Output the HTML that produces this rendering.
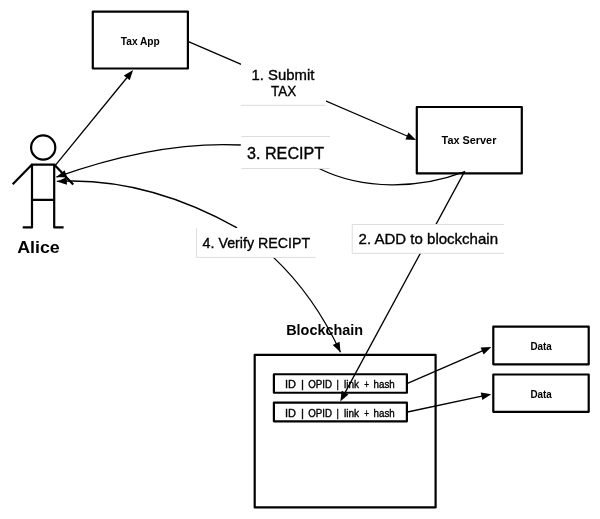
<!DOCTYPE html>
<html><head><meta charset="utf-8">
<style>
html,body{margin:0;padding:0;background:#fff;}
body{width:600px;height:519px;overflow:hidden;position:relative;}
svg{position:absolute;left:0;top:0;will-change:transform;}
text{font-family:"Liberation Sans",sans-serif;fill:#000;}
</style></head><body>
<svg width="600" height="519" viewBox="0 0 600 519">
<rect x="0" y="0" width="600" height="519" fill="#fff"/>
<g>
<g fill="none" stroke="#000" stroke-width="1.3">
<path d="M 188.50 41.70 L 410.59 137.52"/>
<path d="M 55.50 165.20 L 129.31 74.75"/>
<path d="M 464.80 171.10 L 343.15 396.12"/>
<path d="M 407.50 383.30 L 485.79 349.38"/>
<path d="M 407.50 412.00 L 485.43 395.45"/>
<path d="M 464.00 171.90 C 419.62 189.06 362.81 190.16 319.60 168.75"/>
<path d="M 240.80 145.00 C 178.01 141.87 115.48 156.00 56.40 177.10"/>
<path d="M 237.10 227.85 C 181.72 196.89 120.49 177.95 56.80 181.40"/>
<path d="M 273.20 257.10 C 301.60 283.81 324.13 316.98 340.50 352.30"/>
</g>
<g fill="#000" stroke="none">
<polygon points="416.10,139.90 405.41,139.43 408.42,132.45"/>
<polygon points="133.10,70.10 129.72,80.25 123.83,75.45"/>
<polygon points="340.30,401.40 341.71,390.80 348.40,394.41"/>
<polygon points="491.30,347.00 483.63,354.46 480.61,347.49"/>
<polygon points="491.30,394.20 482.31,399.99 480.73,392.56"/>
<polygon points="56.40,177.10 64.59,170.21 67.09,177.39"/>
<polygon points="56.80,181.40 66.66,177.24 66.93,184.84"/>
<polygon points="340.50,352.30 332.74,344.94 339.59,341.64"/>
</g>
<rect x="241" y="60" width="85" height="45" fill="#fff"/>
<line x1="240.8" y1="105.3" x2="325.8" y2="105.3" stroke="#ddd" stroke-width="1"/>
<rect x="241.5" y="136.5" width="88.5" height="32" fill="#fff"/>
<line x1="241.5" y1="136.5" x2="330" y2="136.5" stroke="#ddd" stroke-width="1"/>
<line x1="241.5" y1="168.5" x2="330" y2="168.5" stroke="#ddd" stroke-width="1"/>
<rect x="196.5" y="228" width="119.5" height="29.4" fill="#fff"/>
<line x1="196.5" y1="228.3" x2="196.5" y2="257.4" stroke="#ddd" stroke-width="1"/>
<line x1="196.5" y1="257.4" x2="316" y2="257.4" stroke="#ddd" stroke-width="1"/>
<rect x="352.2" y="224.5" width="151.6" height="28.8" fill="#fff"/>
<line x1="352.2" y1="224.5" x2="352.2" y2="253.3" stroke="#ddd" stroke-width="1"/>
<line x1="352.2" y1="224.5" x2="503.8" y2="224.5" stroke="#ddd" stroke-width="1"/>
<line x1="352.2" y1="253.3" x2="503.8" y2="253.3" stroke="#ddd" stroke-width="1"/>
<g fill="none" stroke="#000" stroke-width="2.2" stroke-linejoin="round">
<rect x="92.8" y="11.6" width="95.1" height="56.9"/>
<rect x="416.8" y="107" width="105" height="66.4"/>
<rect x="254.7" y="354.8" width="180.9" height="152.6"/>
<rect x="273.9" y="374.25" width="133" height="18.5"/>
<rect x="273.9" y="402.7" width="133" height="18.6"/>
<rect x="493.3" y="326.6" width="95.4" height="37.7"/>
<rect x="493.3" y="374.5" width="95.4" height="37.3"/>
<circle cx="43.2" cy="147.5" r="12.1"/>
<path d="M 32 164.6 L 54.2 164.6 M 32 199.8 L 54.2 199.8 M 32 163.5 L 32 227.4 L 22.7 227.4 M 54.2 163.5 L 54.2 227.4 L 63.6 227.4 M 32 164.6 L 12.7 184.3 M 54.2 164.6 L 73.2 184.5"/>
</g>
</g>
<text id="sub" x="251.60" y="79.70" font-size="14.5" font-weight="normal" textLength="62.80" lengthAdjust="spacingAndGlyphs" stroke="#000" stroke-width="0.35">1. Submit</text>
<text id="tax" x="271.00" y="96.30" font-size="15" font-weight="normal" textLength="25.20" lengthAdjust="spacingAndGlyphs" stroke="#000" stroke-width="0.35">TAX</text>
<text id="rec" x="247.00" y="158.80" font-size="16.5" font-weight="normal" textLength="77.20" lengthAdjust="spacingAndGlyphs" stroke="#000" stroke-width="0.35">3. RECIPT</text>
<text id="ver" x="202.60" y="248.00" font-size="15" font-weight="normal" textLength="107.60" lengthAdjust="spacingAndGlyphs" stroke="#000" stroke-width="0.35">4. Verify RECIPT</text>
<text id="add" x="358.60" y="243.80" font-size="15" font-weight="normal" textLength="139.40" lengthAdjust="spacingAndGlyphs" stroke="#000" stroke-width="0.35">2. ADD to blockchain</text>
<text id="app" x="120.80" y="44.60" font-size="10.5" font-weight="bold" textLength="39.00" lengthAdjust="spacingAndGlyphs">Tax App</text>
<text id="srv" x="441.60" y="144.00" font-size="10.7" font-weight="bold" textLength="54.80" lengthAdjust="spacingAndGlyphs">Tax Server</text>
<text id="id1_0" x="285.00" y="388.20" font-size="10" font-weight="normal" textLength="11.00" lengthAdjust="spacingAndGlyphs" stroke="#000" stroke-width="0.35">ID</text>
<text id="id1_1" x="301.00" y="388.20" font-size="10" font-weight="normal" textLength="3.00" lengthAdjust="spacingAndGlyphs" stroke="#000" stroke-width="0.35">|</text>
<text id="id1_2" x="308.20" y="388.20" font-size="10" font-weight="normal" textLength="23.80" lengthAdjust="spacingAndGlyphs" stroke="#000" stroke-width="0.35">OPID</text>
<text id="id1_3" x="336.60" y="388.20" font-size="10" font-weight="normal" textLength="2.40" lengthAdjust="spacingAndGlyphs" stroke="#000" stroke-width="0.35">|</text>
<text id="id1_4" x="344.00" y="388.20" font-size="10" font-weight="normal" textLength="15.00" lengthAdjust="spacingAndGlyphs" stroke="#000" stroke-width="0.35">link</text>
<text id="id1_5" x="364.20" y="388.20" font-size="10" font-weight="normal" textLength="4.80" lengthAdjust="spacingAndGlyphs" stroke="#000" stroke-width="0.35">+</text>
<text id="id1_6" x="373.60" y="388.20" font-size="10" font-weight="normal" textLength="21.20" lengthAdjust="spacingAndGlyphs" stroke="#000" stroke-width="0.35">hash</text>
<text id="id2_0" x="285.00" y="416.60" font-size="10" font-weight="normal" textLength="11.00" lengthAdjust="spacingAndGlyphs" stroke="#000" stroke-width="0.35">ID</text>
<text id="id2_1" x="301.00" y="416.60" font-size="10" font-weight="normal" textLength="3.00" lengthAdjust="spacingAndGlyphs" stroke="#000" stroke-width="0.35">|</text>
<text id="id2_2" x="308.20" y="416.60" font-size="10" font-weight="normal" textLength="23.80" lengthAdjust="spacingAndGlyphs" stroke="#000" stroke-width="0.35">OPID</text>
<text id="id2_3" x="336.60" y="416.60" font-size="10" font-weight="normal" textLength="2.40" lengthAdjust="spacingAndGlyphs" stroke="#000" stroke-width="0.35">|</text>
<text id="id2_4" x="344.00" y="416.60" font-size="10" font-weight="normal" textLength="15.00" lengthAdjust="spacingAndGlyphs" stroke="#000" stroke-width="0.35">link</text>
<text id="id2_5" x="364.20" y="416.60" font-size="10" font-weight="normal" textLength="4.80" lengthAdjust="spacingAndGlyphs" stroke="#000" stroke-width="0.35">+</text>
<text id="id2_6" x="373.60" y="416.60" font-size="10" font-weight="normal" textLength="21.20" lengthAdjust="spacingAndGlyphs" stroke="#000" stroke-width="0.35">hash</text>
<text id="d1" x="530.40" y="349.80" font-size="10.3" font-weight="bold" textLength="21.40" lengthAdjust="spacingAndGlyphs">Data</text>
<text id="d2" x="530.40" y="397.70" font-size="10.3" font-weight="bold" textLength="21.40" lengthAdjust="spacingAndGlyphs">Data</text>
<text id="blk" x="286.20" y="335.25" font-size="14.5" font-weight="bold" textLength="77.00" lengthAdjust="spacingAndGlyphs">Blockchain</text>
<text id="ali" x="17.20" y="252.80" font-size="17" font-weight="bold" textLength="42.60" lengthAdjust="spacingAndGlyphs">Alice</text>
</svg>
</body></html>
